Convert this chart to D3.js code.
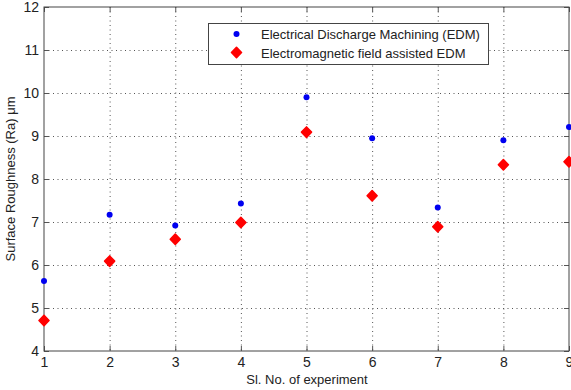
<!DOCTYPE html>
<html>
<head>
<meta charset="utf-8">
<script src="https://cdn.jsdelivr.net/npm/d3@7"></script>
<style>
  body { margin: 0; background: #fff; }
  text { font-family: "Liberation Sans", Arial, sans-serif; fill: #222; }
</style>
</head>
<body>
<svg id="chart" width="571" height="390"></svg>
<script>
// experiment numbers and measured Ra values
const experiments = [1, 2, 3, 4, 5, 6, 7, 8, 9];
const edmRa = [5.63, 7.17, 6.92, 7.43, 9.90, 8.95, 7.34, 8.90, 9.21];
const emfRa = [4.71, 6.09, 6.60, 6.99, 9.09, 7.61, 6.89, 8.33, 8.40];
const xTicks = [1, 2, 3, 4, 5, 6, 7, 8, 9];
const yTicks = [4, 5, 6, 7, 8, 9, 10, 11, 12];
const seriesNames = ["Electrical Discharge Machining (EDM)", "Electromagnetic field assisted EDM"];

const svg = d3.select("#chart");
const plotL = 44, plotR = 569, plotT = 7, plotB = 351;

const x = d3.scaleLinear().domain([1, 9]).range([plotL, plotR]);
const y = d3.scaleLinear().domain([4, 12]).range([plotB, plotT]);

// grid (dotted)
const grid = svg.append("g").attr("stroke", "#555").attr("stroke-width", 1)
  .attr("stroke-dasharray", "1,3.5");
grid.selectAll(".gx").data(xTicks.slice(1, -1)).enter().append("line")
  .attr("x1", d => x(d) + 0.5).attr("x2", d => x(d) + 0.5)
  .attr("y1", plotT).attr("y2", plotB);
grid.selectAll(".gy").data(yTicks.slice(1, -1)).enter().append("line")
  .attr("y1", d => Math.round(y(d)) + 0.5).attr("y2", d => Math.round(y(d)) + 0.5)
  .attr("x1", plotL).attr("x2", plotR);

// axes: ticks inward on all four sides
const tickLen = 5;
const fontSize = "14px";
svg.append("g").attr("transform", `translate(0,${plotB})`)
  .call(d3.axisBottom(x).tickValues(xTicks).tickSize(-tickLen).tickPadding(6).tickFormat(d3.format("d")))
  .call(g => g.selectAll("text").style("font-size", fontSize))
  .call(g => g.select(".domain").remove());
svg.append("g").attr("transform", `translate(0,${plotT})`)
  .call(d3.axisTop(x).tickValues(xTicks).tickSize(-tickLen).tickFormat(""))
  .call(g => g.select(".domain").remove());
svg.append("g").attr("transform", `translate(${plotL},0)`)
  .call(d3.axisLeft(y).tickValues(yTicks).tickSize(-tickLen).tickPadding(5).tickFormat(d3.format("d")))
  .call(g => g.selectAll("text").style("font-size", fontSize))
  .call(g => g.select(".domain").remove());
svg.append("g").attr("transform", `translate(${plotR},0)`)
  .call(d3.axisRight(y).tickValues(yTicks).tickSize(-tickLen).tickFormat(""))
  .call(g => g.select(".domain").remove());
svg.selectAll(".tick line").attr("stroke", "#555");

svg.append("rect").attr("x", plotL).attr("y", plotT)
  .attr("width", plotR - plotL).attr("height", plotB - plotT)
  .attr("fill", "none").attr("stroke", "#444").attr("stroke-width", 1);

// markers
const diamond = "M0,-5.2L5,0L0,5.2L-5,0Z";
svg.append("g").selectAll("path").data(experiments).enter().append("path")
  .attr("d", diamond)
  .attr("transform", (d, i) => `translate(${x(d)},${y(emfRa[i])})`)
  .attr("fill", "#f00").attr("stroke", "#f00").attr("stroke-width", 1.6)
  .attr("stroke-linejoin", "round");
svg.append("g").selectAll("circle").data(experiments).enter().append("circle")
  .attr("cx", d => x(d)).attr("cy", (d, i) => y(edmRa[i]))
  .attr("r", 3).attr("fill", "#0000f0");

// legend
const lg = svg.append("g");
lg.append("rect").attr("x", 208.5).attr("y", 23.5).attr("width", 280).attr("height", 41)
  .attr("fill", "#fff").attr("stroke", "#444");
lg.append("circle").attr("cx", 236.5).attr("cy", 34).attr("r", 3).attr("fill", "#0000f0");
lg.append("path").attr("d", diamond).attr("transform", "translate(236.5,52.5)")
  .attr("fill", "#f00").attr("stroke", "#f00").attr("stroke-width", 1.6).attr("stroke-linejoin", "round");
lg.selectAll("text").data(seriesNames).enter().append("text")
  .attr("x", 261).attr("y", (d, i) => 39 + i * 18.5)
  .style("font-size", "13px").text(d => d);

// axis titles
svg.append("text").attr("x", 307).attr("y", 384).attr("text-anchor", "middle")
  .style("font-size", "13px").text("Sl. No. of experiment");
svg.append("text").attr("transform", `translate(15,${(plotT + plotB) / 2}) rotate(-90)`)
  .attr("text-anchor", "middle").style("font-size", "13px").text("Surface Roughness (Ra) μm");
</script>
</body>
</html>
